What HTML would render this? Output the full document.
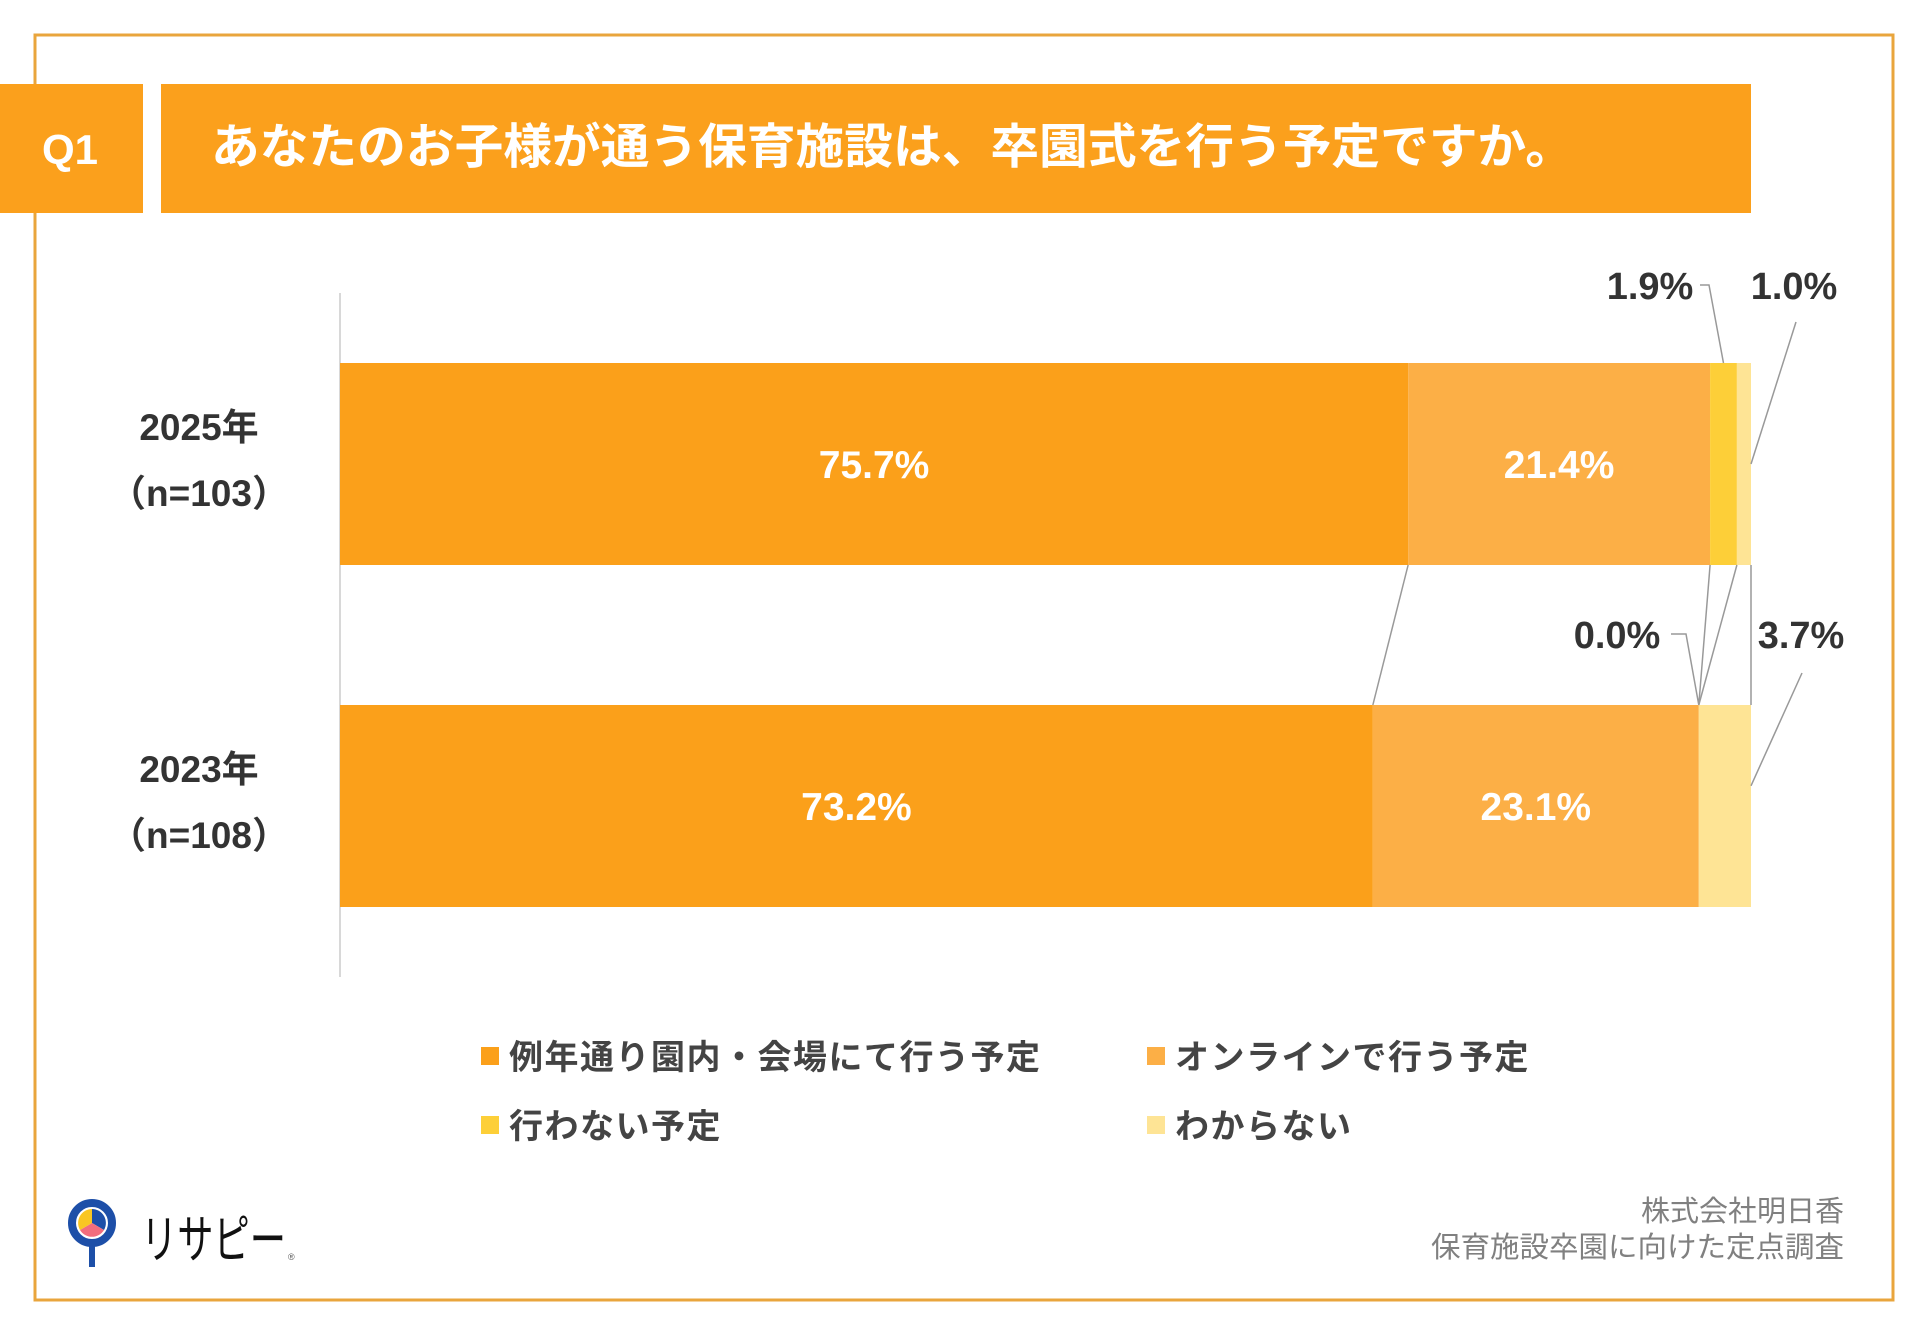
<!DOCTYPE html>
<html><head><meta charset="utf-8"><style>
html,body{margin:0;padding:0;background:#fff;}
body{width:1920px;height:1329px;overflow:hidden;font-family:"Liberation Sans","Noto Sans CJK JP",sans-serif;}
</style></head><body>
<svg id="chart" width="1920" height="1329" viewBox="0 0 1920 1329" xmlns="http://www.w3.org/2000/svg" font-family="Liberation Sans, Noto Sans CJK JP, sans-serif">
<rect x="35" y="35" width="1858" height="1265" fill="none" stroke="#E9A53C" stroke-width="3"/>
<rect x="0" y="84" width="143" height="129" fill="#FBA01C"/>
<text x="70" y="164" fill="#fff" font-size="42" font-weight="bold" text-anchor="middle">Q1</text>
<rect x="161" y="84" width="1590" height="129" fill="#FBA01C"/>
<text x="211" y="163" fill="#fff" font-size="48" font-weight="bold" textLength="1363" lengthAdjust="spacingAndGlyphs">あなたのお子様が通う保育施設は、卒園式を行う予定ですか。</text>
<line x1="340" y1="293" x2="340" y2="977" stroke="#ccc" stroke-width="1.5"/>
<g id="bars"></g>
<g id="legend"></g>
<text x="1844" y="1221" fill="#808080" font-size="29" text-anchor="end">株式会社明日香</text>
<text x="1844" y="1257" fill="#808080" font-size="29" text-anchor="end" textLength="413" lengthAdjust="spacingAndGlyphs">保育施設卒園に向けた定点調査</text>
<g>
<circle cx="92" cy="1223" r="20" fill="none" stroke="#1D4FA8" stroke-width="8"/>
<path d="M92 1223 L92 1209 A14 14 0 0 1 104 1230 Z" fill="#1D4FA8"/>
<path d="M92 1223 L104 1230 A14 14 0 0 1 80 1230 Z" fill="#F26D7D"/>
<path d="M92 1223 L80 1230 A14 14 0 0 1 92 1209 Z" fill="#F9C623"/>
<rect x="89" y="1243" width="6" height="24" fill="#1D4FA8"/>
<text x="141" y="1258" fill="#111" font-size="52" textLength="145" lengthAdjust="spacingAndGlyphs">リサピー</text>
<text x="288" y="1260" fill="#555" font-size="9">®</text>
</g>
</svg>
<script>
const categories = ["2025年", "2023年"];
const sampleSizes = ["（n=103）", "（n=108）"];
const seriesNames = ["例年通り園内・会場にて行う予定", "オンラインで行う予定", "行わない予定", "わからない"];
const series2025 = [75.7, 21.4, 1.9, 1.0];
const series2023 = [73.2, 23.1, 0.0, 3.7];
const seriesColors = ["#FBA01A", "#FCAF46", "#FDCF38", "#FEE495"];

const NS = "http://www.w3.org/2000/svg";
const X0 = 340, W = 1411, BAR_H = 202;
const barTops = [363, 705];
const xScale = v => X0 + v / 100 * W;
const values = [series2025, series2023];
const g = document.getElementById("bars");
function mk(tag, attrs, parent) {
  const el = document.createElementNS(NS, tag);
  for (const k in attrs) el.setAttribute(k, attrs[k]);
  parent.appendChild(el);
  return el;
}
const fmt = v => v.toFixed(1) + "%";
const edges = values.map(vals => { let c = 0; const e = [0]; vals.forEach(v => { c += v; e.push(c); }); return e; });

values.forEach((vals, ci) => {
  const top = barTops[ci];
  const lbl = mk("text", {x: 199, y: top + 77, "font-size": 37, "font-weight": "bold", fill: "#333", "text-anchor": "middle"}, g);
  lbl.textContent = categories[ci];
  
  
  const n = mk("text", {x: 199, y: top + 143, "font-size": 37, "font-weight": "bold", fill: "#333", "text-anchor": "middle"}, g);
  n.textContent = sampleSizes[ci];
  
  
  vals.forEach((v, si) => {
    const x1 = xScale(edges[ci][si]), x2 = xScale(edges[ci][si + 1]);
    const r = mk("rect", {x: x1, y: top, width: Math.max(0, x2 - x1), height: BAR_H, fill: seriesColors[si]}, g);
    
    
    if (si < 2) {
      const t = mk("text", {x: (x1 + x2) / 2, y: top + BAR_H / 2 + 14, "font-size": 39, "font-weight": "bold", fill: "#fff", "text-anchor": "middle"}, g);
      t.textContent = fmt(v);
      
      
    }
  });
});
for (let i = 1; i <= 4; i++) {
  const l = mk("line", {x1: xScale(edges[0][i]), y1: barTops[0] + BAR_H, x2: xScale(edges[1][i]), y2: barTops[1], stroke: "#999", "stroke-width": 1.5}, g);
  
  
}
const outLabels = [
  {ci: 0, si: 2, tx: 1650, ty: 299, path: (cx, top) => `M1700 285 L1709 285 L${cx} ${top}`},
  {ci: 0, si: 3, tx: 1794, ty: 299, path: (cx, top) => `M1796 322 L${xScale(edges[0][4])} ${top + BAR_H / 2}`},
  {ci: 1, si: 2, tx: 1617, ty: 648, path: (cx, top) => `M1671 634 L1686 634 L${cx} ${top}`},
  {ci: 1, si: 3, tx: 1801, ty: 648, path: (cx, top) => `M1802 673 L${xScale(edges[1][4])} ${top + BAR_H * 0.4}`}
];
outLabels.forEach(o => {
  const v = values[o.ci][o.si];
  const cx = (xScale(edges[o.ci][o.si]) + xScale(edges[o.ci][o.si + 1])) / 2;
  const p = mk("path", {d: o.path(cx, barTops[o.ci]), fill: "none", stroke: "#999", "stroke-width": 1.5}, g);
  
  
  const t = mk("text", {x: o.tx, y: o.ty, "font-size": 38, "font-weight": "bold", fill: "#333", "text-anchor": "middle"}, g);
  t.textContent = fmt(v);
  
  
});
const lg = document.getElementById("legend");
const legPos = [[481, 1057], [1147, 1057], [481, 1126], [1147, 1126]];
seriesNames.forEach((name, i) => {
  const [x, y] = legPos[i];
  const s = mk("rect", {x: x, y: y - 10, width: 18, height: 18, fill: seriesColors[i]}, lg);
  
  
  const t = mk("text", {x: x + 28, y: y + 12, "font-size": 34, "font-weight": "bold", fill: "#444", "letter-spacing": 1.5}, lg);
  t.textContent = name;
  
  
});
</script>
</body></html>
